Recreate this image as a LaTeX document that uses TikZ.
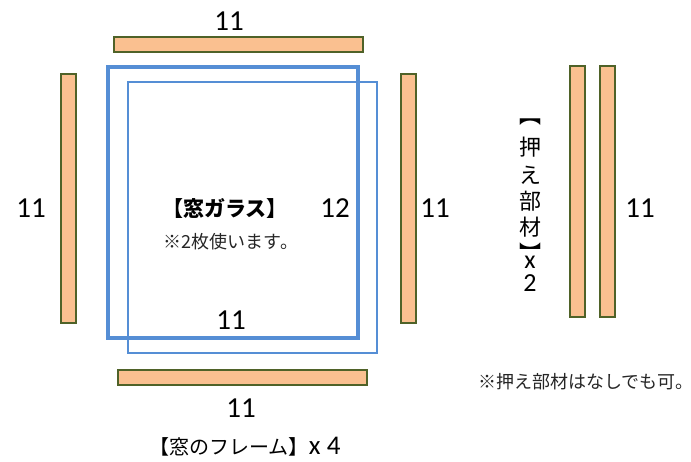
\documentclass[tikz,border=0pt]{standalone}
\usepackage{fontspec}
\setmainfont{Carlito}
\newfontfamily\jp{Noto Sans CJK JP}
\usetikzlibrary{positioning}
\definecolor{woodfill}{RGB}{250,192,144}
\definecolor{woodline}{RGB}{79,98,40}
\definecolor{glass}{RGB}{85,142,213}

\begin{document}
\begin{tikzpicture}[x=1pt, y=-1pt,
  bar/.style={draw=woodline, line width=2pt, fill=woodfill, inner sep=0pt},
  hbar/.style={bar, minimum width=249pt, minimum height=15pt},
  vbar/.style={bar, minimum width=15pt, minimum height=249pt},
  pane/.style={draw=glass, inner sep=0pt, minimum height=271pt},
  num/.style={inner sep=0pt, font=\fontsize{29}{34}\selectfont},
  jtext/.style={inner sep=0pt, font=\jp\fontsize{20}{24}\selectfont},
  note/.style={inner sep=0pt, font=\jp\fontsize{18}{22}\selectfont, text=black!85}]
  \useasboundingbox (0,0) rectangle (691,462);

  % frame pieces
  \node[hbar] (top) at (238,45) {};
  \node[hbar] (bottom) at (242,377.5) {};
  \node[vbar] (left) at (68,199) {};
  \node[vbar] (right) at (408,199) {};

  % glass panes
  \node[pane, line width=2.5pt, minimum width=249pt] (pane2) at (252.5,217.5) {};
  \node[pane, line width=4pt, minimum width=250pt] (pane1) at (233,202.5) {};

  % press pieces
  \node[vbar, minimum height=251pt] (press1) at (577,191.5) {};
  \node[vbar, minimum height=251pt] (press2) at (607.5,191.5) {};

  % sizes
  \node[num] (ltop) at (229,21) {11};
  \node[num] (lleft) at (31,208) {11};
  \node[num] (lright) at (435,208) {11};
  \node[num] (lpane) at (335,208) {12};
  \node[num] (linner) at (231,320) {11};
  \node[num] (lbottom) at (241,408) {11};
  \node[num] (lpress) at (640,208) {11};

  % texts
  \node[jtext, font=\jp\bfseries\fontsize{21}{24}\selectfont] (glasslbl) at (225,208) {【窓ガラス】};
  \node[note] (glassnote) at (231,242) {※2枚使います。};
  \node[jtext] (framelbl) at (245,447) {【窓のフレーム】{\rmfamily\fontsize{27}{30}\selectfont x 4}};
  \node[jtext, font=\jp\fontsize{22}{26}\selectfont, align=center, anchor=north] (presslbl) at (530,119)
    {︻\\[6pt]押\\[2pt]え\\部\\材\\︼};
  \node[num, font=\fontsize{26}{23}\selectfont, align=center, anchor=north] (presscount) at (530,256) {x\\2};
  \node[note] (pressnote) at (586,382) {※押え部材はなしでも可。};
\end{tikzpicture}
\end{document}
